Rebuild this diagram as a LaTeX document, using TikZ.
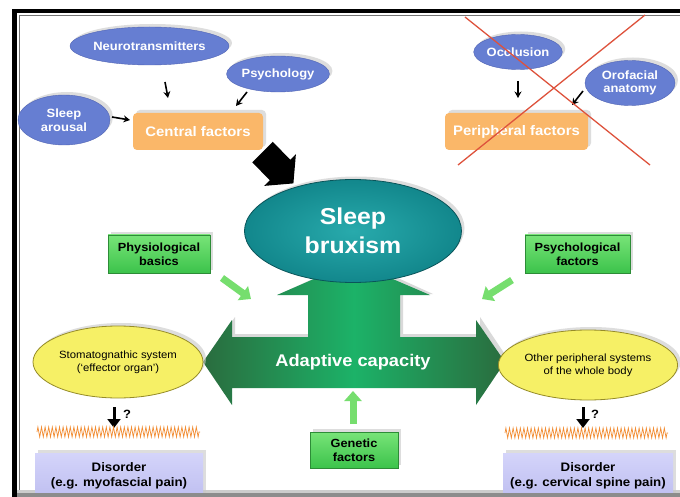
\documentclass[tikz,border=0pt]{standalone}
\usepackage{fontspec}
\setmainfont{Liberation Sans}[FakeStretch=1.08]
\usetikzlibrary{shapes.geometric,arrows.meta,shadows,decorations.pathmorphing,calc}
\definecolor{blueC}{RGB}{102,126,210}
\definecolor{blueD}{RGB}{80,100,180}
\definecolor{orangeC}{RGB}{250,183,105}
\definecolor{tealL}{RGB}{40,170,172}
\definecolor{tealC}{RGB}{18,135,140}
\definecolor{tealD}{RGB}{10,85,90}
\definecolor{greenT}{RGB}{120,228,120}
\definecolor{greenB}{RGB}{60,195,75}
\definecolor{greenD}{RGB}{45,140,55}
\definecolor{lgreen}{RGB}{118,222,110}
\definecolor{dgreen}{RGB}{42,108,62}
\definecolor{mgreen}{RGB}{28,178,104}
\definecolor{yellowC}{RGB}{246,240,102}
\definecolor{yellowD}{RGB}{150,140,40}
\definecolor{lavT}{RGB}{212,212,250}
\definecolor{lavB}{RGB}{190,190,240}
\definecolor{zigC}{RGB}{242,140,50}
\definecolor{redX}{RGB}{222,82,60}
\tikzset{
  shad/.style={drop shadow={shadow xshift=3pt,shadow yshift=3pt,fill=black!22,opacity=0.6}},
  blueell/.style={ellipse,inner sep=0pt,fill=blueC,draw=blueD,text=white,align=center,
    font=\bfseries\fontsize{12}{13.5}\selectfont,shad},
  orangebox/.style={rectangle,rounded corners=4pt,fill=orangeC,text=white,inner sep=0pt,
    font=\bfseries\fontsize{13.8}{15}\selectfont,shad},
  greenbox/.style={rectangle,inner sep=0pt,top color=greenT,bottom color=greenB,draw=greenD,
    align=center,font=\bfseries\fontsize{11.8}{13.8}\selectfont,shad},
  yellowell/.style={ellipse,inner sep=0pt,fill=yellowC,draw=yellowD,line width=0.8pt,align=center,
    font=\fontsize{10.5}{12.8}\selectfont,shad},
  disbox/.style={rectangle,inner sep=0pt,top color=lavT,bottom color=lavB,align=center,
    font=\bfseries\fontsize{12.3}{15}\selectfont,shad},
  smallarr/.style={-{Stealth[length=6.5pt,width=7pt]},line width=1.6pt},
  qarr/.style={-{Triangle[length=9pt,width=13pt]},line width=3pt},
  garr/.style={-{Triangle[length=10pt,width=17pt]},line width=7pt,lgreen},
  zig/.style={zigC,line width=0.7pt,decorate,decoration={zigzag,segment length=3.6pt,amplitude=5pt}},
  xline/.style={redX,line width=1.3pt}
}
\begin{document}
\begin{tikzpicture}[x=1pt,y=-1pt]
\useasboundingbox (0,0) rectangle (680,497);
\clip (0,0) rectangle (680,497);
\fill[white] (0,0) rectangle (680,497);
% frame
\draw[line width=4.5pt] (14.5,500) -- (14.5,11) -- (682,11);
\draw[black!55,line width=0.9pt] (19.3,500) -- (19.3,15.8) -- (682,15.8);
\fill[black!20] (17,490) rectangle (680,493);

% top left group
\node[blueell,minimum width=145pt,minimum height=38pt] (neuro) at (149.5,46) {Neurotransmitters};
\node[blueell,minimum width=93pt,minimum height=36pt] (psych) at (278,74) {Psychology};
\node[blueell,minimum width=92pt,minimum height=50pt] (arousal) at (64,120) {Sleep\\arousal};
\node[orangebox,minimum width=130pt,minimum height=37pt] (central) at (198,131.5) {Central factors};
\coordinate (n1) at (165,82); \coordinate (n2) at (168,98);
\coordinate (p1) at (247,92); \coordinate (p2) at (236,106);
\coordinate (a1) at (112,117); \coordinate (a2) at (130,120);
\draw[smallarr] (n1) -- (n2);
\draw[smallarr] (p1) -- (p2);
\draw[smallarr] (a1) -- (a2);

% top right group
\node[blueell,minimum width=87pt,minimum height=35pt] (occl) at (518,52) {Occlusion};
\node[blueell,minimum width=90pt,minimum height=45pt] (oro) at (630,83) {Orofacial\\anatomy};
\node[orangebox,minimum width=143pt,minimum height=37pt] (periph) at (516.5,131.5) {Peripheral factors};
\coordinate (o1) at (518,81); \coordinate (o2) at (518,98);
\coordinate (f1) at (583,91); \coordinate (f2) at (572,105);
\draw[smallarr] (o1) -- (o2);
\draw[smallarr] (f1) -- (f2);
\coordinate (x1) at (465,17); \coordinate (x2) at (650,165);
\coordinate (x3) at (645,15); \coordinate (x4) at (458,165);
\draw[xline] (x1) -- (x2);
\draw[xline] (x3) -- (x4);

% black block arrow
\fill[black] (272.75,141.75) -- (290.25,159.75) -- (295.9,154.1) -- (293.4,183.4)
  -- (264.1,185.9) -- (269.75,180.25) -- (252.25,162.25) -- cycle;

% big green arrow
\fill[black!15] (206,359) -- (235,317) -- (235,334) -- (311,334) -- (311,294) -- (280,294)
  -- (356,259) -- (433,294) -- (403,294) -- (403,334) -- (480,334) -- (480,317) -- (508,359) -- cycle;
\shade[left color=dgreen,right color=dgreen,middle color=mgreen]
  (203,362) -- (232,320) -- (232,337) -- (308,337) -- (308,295) -- (277,295) -- (353,262)
  -- (430,295) -- (400,295) -- (400,337) -- (476,337) -- (476,320) -- (505,362)
  -- (476,405) -- (476,388) -- (232,388) -- (232,405) -- cycle;
\node[text=white,font=\bfseries\fontsize{16.9}{19}\selectfont] (adapt) at (353,362) {Adaptive capacity};

% sleep bruxism
\node[ellipse,inner sep=0pt,minimum width=217pt,minimum height=103pt,inner color=tealL,outer color=tealC,
  draw=tealD,line width=0.8pt,text=white,align=center,font=\bfseries\fontsize{23}{29}\selectfont,shad]
  (brux) at (353,231) {Sleep\\bruxism};

% side boxes
\node[greenbox,minimum width=102pt,minimum height=38pt] (physio) at (159,254) {Physiological\\basics};
\node[greenbox,minimum width=105pt,minimum height=38pt] (psyf) at (577.5,254) {Psychological\\factors};
\node[greenbox,minimum width=88pt,minimum height=36pt] (gen) at (354,450) {Genetic\\factors};
\coordinate (g1) at (222,278); \coordinate (g2) at (251,299);
\coordinate (h1) at (512,280); \coordinate (h2) at (482,299);
\coordinate (k1) at (353,424); \coordinate (k2) at (353,391);
\draw[garr] (g1) -- (g2);
\draw[garr] (h1) -- (h2);
\draw[garr] (k1) -- (k2);

% yellow ellipses
\node[yellowell,minimum width=170pt,minimum height=72pt] (stoma) at (118,362) {Stomatognathic system\\(`effector organ')};
\node[yellowell,minimum width=170pt,minimum height=70pt] (other) at (588,365) {Other peripheral systems\\of the whole body};

% question arrows and zigzags
\coordinate (zl1) at (37,432); \coordinate (zl2) at (200,432);
\coordinate (zr1) at (505,433); \coordinate (zr2) at (668,433);
\coordinate (ql) at (114,428); \coordinate (qr) at (583,428);
\draw[qarr] ([yshift=-9pt]stoma.south -| ql) -- (ql);
\draw[qarr] ([yshift=-7pt]other.south -| qr) -- (qr);
\node[font=\bfseries\fontsize{12}{14}\selectfont] (qml) at (127,414) {?};
\node[font=\bfseries\fontsize{12}{14}\selectfont] (qmr) at (595,414) {?};
\draw[zig] (zl1) -- (zl2);
\draw[zig] (zr1) -- (zr2);

% disorder boxes
\node[disbox,minimum width=168pt,minimum height=46pt] (disl) at (119,476) {Disorder\\(e.g. myofascial pain)};
\node[disbox,minimum width=170pt,minimum height=46pt] (disr) at (588,476) {Disorder\\(e.g. cervical spine pain)};
\fill[black!45] (17,493) rectangle (680,497);
\end{tikzpicture}
\end{document}
